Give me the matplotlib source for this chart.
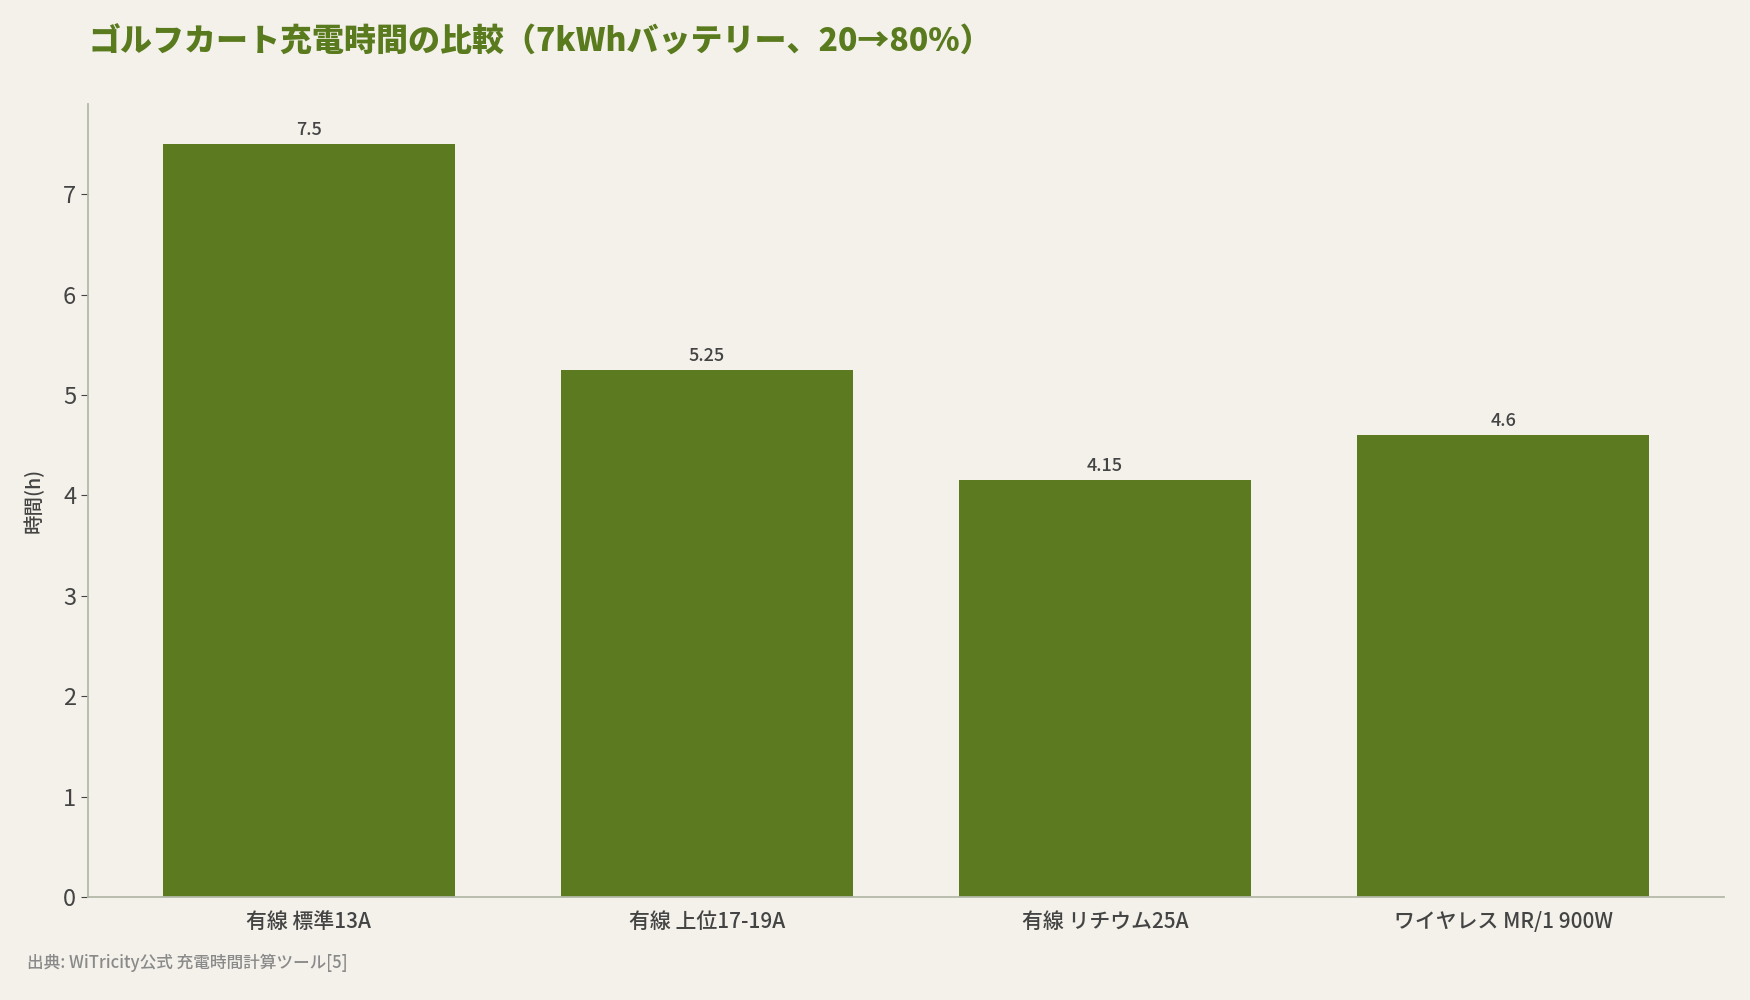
import matplotlib
matplotlib.use("Agg")
import matplotlib.pyplot as plt

plt.rcParams['font.family'] = ['Noto Sans CJK JP', 'DejaVu Sans']

categories = ["有線 標準13A", "有線 上位17-19A", "有線 リチウム25A", "ワイヤレス MR/1 900W"]
hours = [7.5, 5.25, 4.15, 4.6]
value_labels = ["7.5", "5.25", "4.15", "4.6"]
title = "ゴルフカート充電時間の比較（7kWhバッテリー、20→80%）"
ylabel = "時間(h)"
source = "出典: WiTricity公式 充電時間計算ツール[5]"

bg = "#f3f1ea"
bar_color = "#5c7a1f"
text_color = "#444444"

fig = plt.figure(figsize=(17.5, 10), dpi=100, facecolor=bg)
ax = fig.add_axes([88/1750, 1 - 897/1000, (1724-88)/1750, (897-104)/1000])
ax.set_facecolor(bg)

x = list(range(len(categories)))
bars = ax.bar(x, hours, width=0.735, color=bar_color)
for xi, h, lab in zip(x, hours, value_labels):
    ax.text(xi, h + 0.05, lab, ha='center', va='bottom', fontsize=13,
            fontweight='medium', color=text_color)

ax.set_xlim(-0.555, 3.555)
ax.set_ylim(0, 7.9)
ax.set_xticks(x)
ax.set_xticklabels(categories, fontsize=15, color=text_color, fontweight='medium')
ax.set_yticks(range(0, 8))
ax.tick_params(axis='y', labelsize=17, colors=text_color, length=5, color=text_color)
ax.tick_params(axis='x', length=0, pad=10)
for s in ['top', 'right']:
    ax.spines[s].set_visible(False)
for s in ['left', 'bottom']:
    ax.spines[s].set_color('#b3b9a9')
    ax.spines[s].set_linewidth(1.3)
ax.set_ylabel(ylabel, fontsize=14, color=text_color, labelpad=14, fontweight='medium')

fig.text(88/1750, 1 - 42/1000, title, fontsize=23, fontweight='black', color='#5a7a1e', ha='left', va='center')
fig.text(27/1750, 1 - 963/1000, source, fontsize=12, color='#8a8a8a', ha='left', va='center',
         fontweight='medium')

fig.savefig("out.png", dpi=100, facecolor=bg)
